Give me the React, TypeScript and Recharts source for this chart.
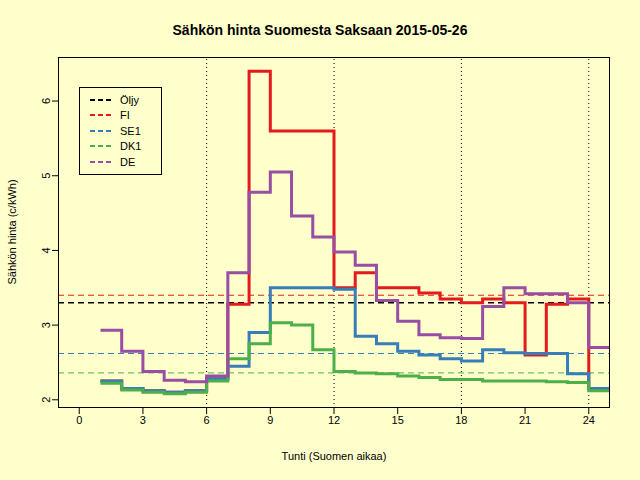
import { LineChart, Line, XAxis, YAxis, ReferenceLine } from "recharts";

const hours = [1, 2, 3, 4, 5, 6, 7, 8, 9, 10, 11, 12, 13, 14, 15, 16, 17, 18, 19, 20, 21, 22, 23, 24, 25];
const fi = [2.25, 2.15, 2.12, 2.1, 2.12, 2.28, 3.28, 6.4, 5.6, 5.6, 5.6, 3.5, 3.7, 3.5, 3.5, 3.43, 3.35, 3.3, 3.35, 3.3, 2.6, 3.28, 3.35, 2.15, 2.15];
const se1 = [2.25, 2.15, 2.12, 2.1, 2.12, 2.28, 2.45, 2.9, 3.5, 3.5, 3.5, 3.48, 2.85, 2.75, 2.65, 2.6, 2.55, 2.52, 2.67, 2.63, 2.62, 2.62, 2.35, 2.15, 2.15];
const dk1 = [2.22, 2.13, 2.1, 2.08, 2.1, 2.25, 2.55, 2.75, 3.03, 3.0, 2.67, 2.38, 2.36, 2.35, 2.32, 2.3, 2.27, 2.27, 2.25, 2.25, 2.25, 2.24, 2.23, 2.12, 2.12];
const de = [2.93, 2.65, 2.38, 2.26, 2.24, 2.32, 3.7, 4.78, 5.05, 4.46, 4.18, 3.98, 3.8, 3.33, 3.05, 2.87, 2.83, 2.82, 3.25, 3.5, 3.42, 3.42, 3.3, 2.7, 2.7];
const averages = { oil: 3.3, fi: 3.4, se1: 2.62, dk1: 2.36 };
const xTicks = [0, 3, 6, 9, 12, 15, 18, 21, 24];
const yTicks = [2, 3, 4, 5, 6];
const legendItems = [
  { name: "Öljy", color: "#000000" },
  { name: "FI", color: "#E41A1C" },
  { name: "SE1", color: "#377EB8" },
  { name: "DK1", color: "#4DAF4A" },
  { name: "DE", color: "#984EA3" },
];

const data = hours.map((h, i) => ({ h, fi: fi[i], se1: se1[i], dk1: dk1[i], de: de[i] }));

const font = "'Liberation Sans', Arial, sans-serif";

const YTick = (props: any) => {
  const { x, y, payload } = props;
  return (
    <text x={x} y={y} transform={`rotate(-90 ${x} ${y})`} textAnchor="middle" fontSize={11} fill="#000" fontFamily={font}>
      {payload.value}
    </text>
  );
};

export default function App() {
  return (
    <div style={{ position: "absolute", left: 0, top: 0, width: 640, height: 480, background: "#FFFFCC", fontFamily: font }}>
      <div style={{ position: "absolute", top: 22, width: 640, textAlign: "center", fontWeight: "bold", fontSize: 14 }}>
        Sähkön hinta Suomesta Saksaan 2015-05-26
      </div>
      <LineChart width={640} height={480} data={data} margin={{ top: 57, right: 30, bottom: 42, left: 8 }}>
        <XAxis dataKey="h" type="number" domain={[-1, 25]} ticks={xTicks} axisLine={false} tickSize={6}
          tick={{ fontSize: 11, fill: "#000", fontFamily: font }} stroke="#000" height={30} interval={0} />
        <YAxis type="number" domain={[1.89, 6.59]} ticks={yTicks} axisLine={false} tickSize={6} width={50}
          tick={<YTick />} stroke="#000" />
        {[6, 12, 18, 24].map((v) => (
          <ReferenceLine key={v} x={v} stroke="#000" strokeDasharray="1 3" />
        ))}
        <ReferenceLine y={averages.fi} stroke="#E41A1C" strokeDasharray="6 4" />
        <ReferenceLine y={averages.se1} stroke="#377EB8" strokeDasharray="6 4" />
        <ReferenceLine y={averages.dk1} stroke="#4DAF4A" strokeDasharray="6 4" />
        <ReferenceLine y={averages.oil} stroke="#000" strokeDasharray="6 4" strokeWidth={1.5} />
        <Line type="stepAfter" dataKey="fi" stroke="#E41A1C" strokeWidth={3} dot={false} isAnimationActive={false} />
        <Line type="stepAfter" dataKey="se1" stroke="#377EB8" strokeWidth={3} dot={false} isAnimationActive={false} />
        <Line type="stepAfter" dataKey="dk1" stroke="#4DAF4A" strokeWidth={3} dot={false} isAnimationActive={false} />
        <Line type="stepAfter" dataKey="de" stroke="#984EA3" strokeWidth={3} dot={false} isAnimationActive={false} />
      </LineChart>
      <div style={{ position: "absolute", left: 58, top: 57, width: 552, height: 351, border: "1px solid #000", boxSizing: "border-box", pointerEvents: "none" }} />
      <div style={{ position: "absolute", left: 79, top: 87, width: 83, height: 88, border: "1px solid #000", boxSizing: "border-box", background: "#FFFFCC", fontSize: 11, padding: "4px 0 0 10px" }}>
        {legendItems.map((it) => (
          <div key={it.name} style={{ display: "flex", alignItems: "center", height: 15.5 }}>
            <svg width={22} height={4}><line x1={0} y1={2} x2={22} y2={2} stroke={it.color} strokeWidth={2} strokeDasharray="5 3" /></svg>
            <span style={{ marginLeft: 8 }}>{it.name}</span>
          </div>
        ))}
      </div>
      <div style={{ position: "absolute", top: 450, width: 640, left: 14, textAlign: "center", fontSize: 11 }}>Tunti (Suomen aikaa)</div>
      <div style={{ position: "absolute", left: 12, top: 232, fontSize: 11, transform: "translate(-50%,-50%) rotate(-90deg)", transformOrigin: "center", whiteSpace: "nowrap", marginLeft: 0 }}>
        <span style={{ position: "relative", left: 0 }}>Sähkön hinta (c/kWh)</span>
      </div>
    </div>
  );
}
